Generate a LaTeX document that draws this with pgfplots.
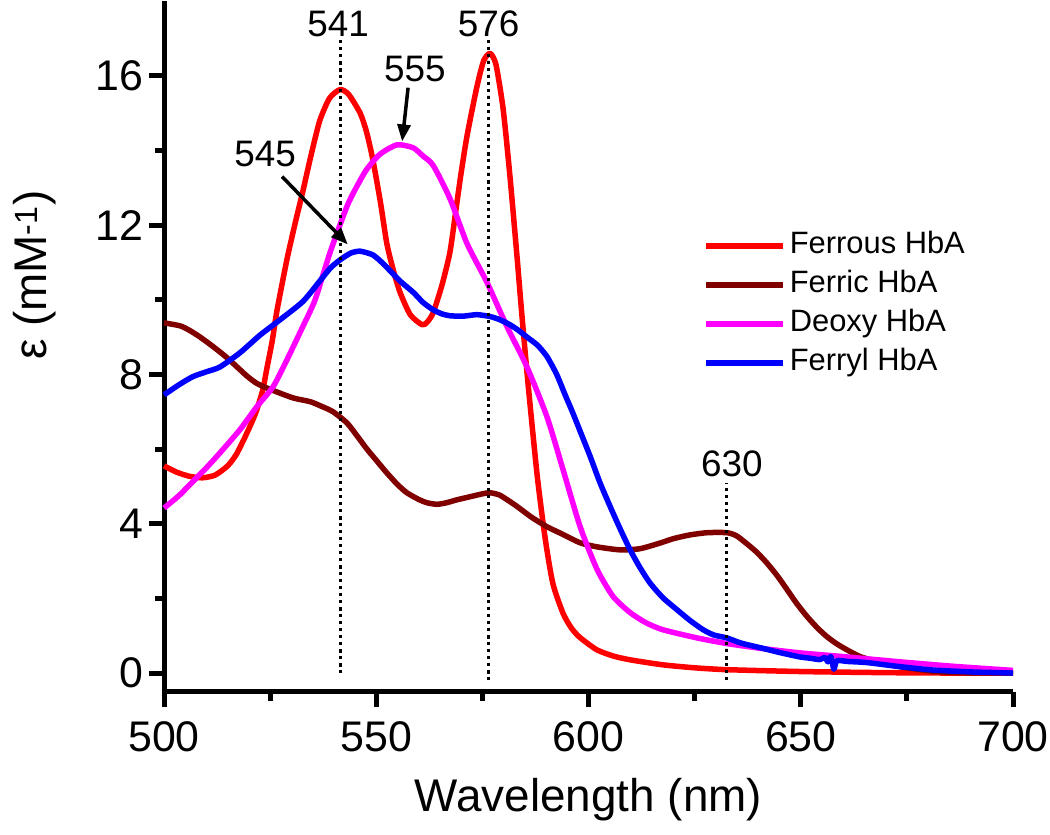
\documentclass[border=0pt]{standalone}
\usepackage{fontspec}
\setmainfont{Liberation Sans}
\usepackage{pgfplots}
\pgfplotsset{compat=1.18}
\usetikzlibrary{arrows.meta}
\definecolor{ferric}{RGB}{128,0,0}
\definecolor{deoxy}{RGB}{255,0,255}
\definecolor{ferrous}{RGB}{255,0,0}
\definecolor{ferryl}{RGB}{0,0,255}
\begin{document}
\begin{tikzpicture}[x=1bp,y=1bp]
\path[use as bounding box] (0,0) rectangle (1050,835);
\begin{axis}[
 at={(164bp,143.3bp)}, anchor=south west,
 scale only axis, width=849bp, height=690.6bp,
 xmin=500, xmax=700, ymin=-0.5, ymax=18,
 axis lines=left, axis line style={-, line width=5bp},
 xtick={500,550,...,700}, ytick={0,4,8,12,16},
 minor x tick num=1, minor y tick num=1,
 tick align=outside, major tick length=15bp, minor tick length=9bp,
 tick style={black, line width=5bp},
 tick label style={font=\fontsize{43}{43}\selectfont},
 xticklabel style={yshift=-11bp},
 yticklabel style={xshift=-2bp},
 /pgf/number format/assume math mode=true,
 xlabel={Wavelength (nm)}, ylabel={ε (mM\textsuperscript{-1})},
 every axis x label/.style={at={(axis description cs:0.5,-0.157)}, anchor=center, font=\fontsize{46}{46}\selectfont},
 every axis y label/.style={at={(axis description cs:-0.152,0.603)}, rotate=90, anchor=center, font=\fontsize{46}{46}\selectfont},
 clip=false,
 legend cell align=left,
 legend style={draw=none, fill=none, at={(axis cs:627,11.97)}, anchor=north west,
   font=\fontsize{31}{31}\selectfont, inner sep=0pt, row sep=0pt,
   nodes={inner xsep=4bp, inner ysep=4.5bp, text height=23bp, text depth=7bp}},
 legend image code/.code={\draw[#1, line width=5.5bp] (0bp,0bp) -- (77bp,0bp);},
 every axis plot/.append style={line width=5.5bp, line join=round, smooth, tension=0.4},
]
\addplot[ferrous, line width=5.5bp] coordinates {(500,5.55)(503,5.38)(506,5.27)(509,5.23)(512,5.3)(515,5.55)(517,5.85)(519,6.3)(521,6.8)(522,7.1)(523.3,7.6)(524.3,8.2)(525.5,8.9)(526.6,9.7)(529,11.1)(531,12.1)(532.7,12.9)(534.7,13.9)(536.7,14.8)(539,15.4)(541.5,15.63)(543.5,15.5)(546.2,15.0)(547.7,14.5)(549.2,13.75)(551,12.6)(552.5,11.5)(554,10.8)(555.6,10.2)(558,9.6)(560.8,9.33)(562,9.4)(563.4,9.65)(565.5,10.4)(567.4,11.3)(569,12.6)(570,13.4)(571.4,14.4)(573.7,15.7)(575.3,16.4)(576.8,16.6)(578.2,16.3)(579.9,15.1)(581.5,13.3)(583.2,11.1)(584.3,9.6)(585.8,7.7)(587.9,5.3)(589.8,3.6)(591.6,2.4)(594,1.6)(596,1.2)(598,0.95)(602,0.62)(606,0.45)(610,0.35)(617.5,0.22)(625,0.14)(632.6,0.09)(650,0.04)(670,0.01)(685,0.0)(700,0.0)};
\addlegendentry{Ferrous HbA}
\addplot[ferric, line width=5.5bp] coordinates {(500,9.38)(503.8,9.3)(506,9.18)(508.5,9.0)(511.5,8.75)(514.8,8.45)(519.6,7.95)(522,7.75)(525,7.6)(530.4,7.37)(534.4,7.27)(537,7.15)(539.8,7.0)(543.1,6.7)(545.5,6.35)(547.8,6.0)(550,5.7)(552.5,5.36)(555,5.05)(557.2,4.83)(560,4.65)(562,4.56)(564.3,4.52)(566.5,4.56)(569,4.64)(572,4.72)(575,4.8)(576.8,4.83)(579,4.77)(581,4.63)(583.2,4.46)(586.5,4.18)(590.2,3.92)(593.3,3.75)(598,3.49)(602,3.38)(607.4,3.3)(612.1,3.33)(616.8,3.48)(620,3.6)(623.9,3.7)(628,3.76)(632.6,3.76)(634.8,3.68)(636.9,3.5)(639.5,3.25)(642,2.95)(644.5,2.6)(646.8,2.23)(649,1.87)(651.5,1.51)(654,1.2)(656.2,0.97)(658.5,0.78)(660.9,0.62)(664,0.44)(668.7,0.28)(673.4,0.17)(681,0.05)(687.5,0.01)(700,0.0)};
\addlegendentry{Ferric HbA}
\addplot[deoxy, line width=5.5bp] coordinates {(500,4.42)(503.5,4.75)(506.8,5.13)(510,5.5)(513.2,5.9)(517.9,6.52)(521.9,7.14)(525.7,7.67)(529,8.4)(532.7,9.28)(535.6,10.0)(539.1,11.26)(543.1,12.5)(545.5,13.05)(547.8,13.5)(550.9,13.9)(554.9,14.15)(558.7,14.07)(561,13.85)(563.4,13.6)(567.4,12.7)(571.4,11.5)(576.1,10.46)(580.8,9.28)(585.5,8.2)(590.2,6.87)(594,5.45)(598,3.93)(602,2.78)(605.8,2.05)(609.8,1.62)(613.5,1.35)(617.5,1.16)(625.6,0.94)(632.6,0.79)(640,0.67)(649.8,0.54)(660,0.44)(673.4,0.3)(686,0.18)(700,0.07)};
\addlegendentry{Deoxy HbA}
\addplot[ferryl, line width=5.5bp] coordinates {(500,7.45)(503.5,7.72)(506.8,7.94)(510,8.07)(513.2,8.2)(517.9,8.58)(522.6,9.05)(527.3,9.46)(532.7,9.95)(536.7,10.5)(539.2,10.85)(541.5,11.07)(544,11.25)(546.2,11.3)(549.2,11.2)(551.5,10.98)(553.9,10.7)(555.6,10.5)(558.7,10.2)(561,9.93)(563.4,9.73)(565.5,9.62)(567.4,9.57)(570.5,9.56)(573.7,9.6)(576.8,9.55)(579,9.47)(581.5,9.33)(583.5,9.18)(585.5,9.0)(588,8.78)(590.2,8.48)(592.5,8.0)(594.5,7.45)(596.3,6.97)(598.3,6.4)(600.4,5.8)(602.7,5.1)(605.1,4.46)(607.5,3.85)(609.8,3.3)(612.1,2.83)(614.5,2.41)(617.5,2.02)(620.8,1.7)(624,1.4)(627,1.16)(629.5,1.02)(632.6,0.94)(636,0.8)(640.4,0.68)(645,0.55)(649.8,0.43)(652,0.4)(654.5,0.36)(655.7,0.42)(656.4,0.3)(657.1,0.44)(657.8,0.1)(658.5,0.33)(661,0.31)(665.6,0.28)(673.4,0.17)(681.2,0.08)(690,0.03)(700,0.0)};
\addlegendentry{Ferryl HbA}
\addplot[black, line width=3bp, dash pattern=on 3bp off 4bp, forget plot] coordinates {(541.5,0)(541.5,17.05)};
\addplot[black, line width=3bp, dash pattern=on 3bp off 4bp, forget plot] coordinates {(576.5,-0.18)(576.5,17.05)};
\addplot[black, line width=3bp, dash pattern=on 3bp off 4bp, forget plot] coordinates {(632.5,-0.18)(632.5,5.1)};
\draw[black, line width=3.5bp, -{Triangle[length=17bp,width=13bp]}] (axis cs:557.5,15.68) -- (axis cs:556.1,14.24);
\draw[black, line width=3.5bp, -{Triangle[length=17bp,width=13bp]}] (axis cs:527.8,13.3) -- (axis cs:543.3,11.48);
\node[anchor=base, inner sep=0pt, font=\fontsize{37}{37}\selectfont] at (axis cs:541,17.04) {541};
\node[anchor=base, inner sep=0pt, font=\fontsize{37}{37}\selectfont] at (axis cs:576.5,17.04) {576};
\node[anchor=base, inner sep=0pt, font=\fontsize{37}{37}\selectfont] at (axis cs:559.1,15.84) {555};
\node[anchor=base, inner sep=0pt, font=\fontsize{37}{37}\selectfont] at (axis cs:523.8,13.56) {545};
\node[anchor=base, inner sep=0pt, font=\fontsize{37}{37}\selectfont] at (axis cs:633.8,5.26) {630};
\end{axis}
\end{tikzpicture}
\end{document}
